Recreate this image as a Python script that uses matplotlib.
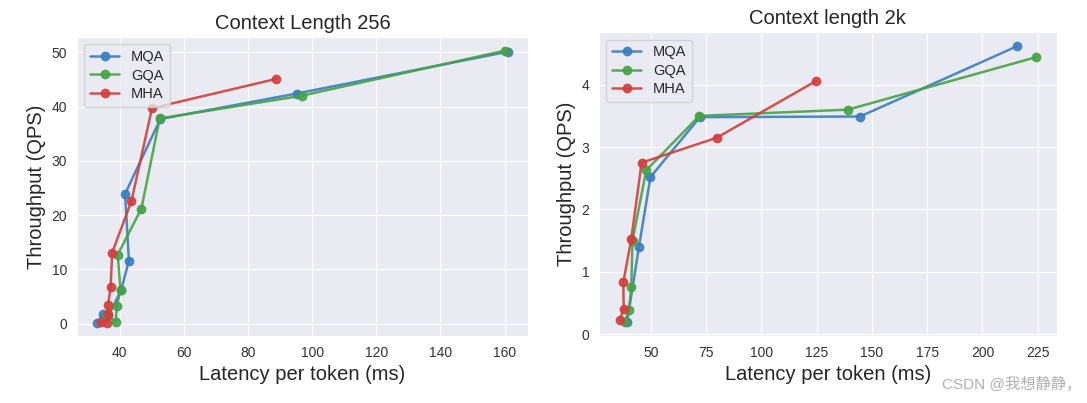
import matplotlib
matplotlib.use("Agg")
import matplotlib.pyplot as plt
import seaborn as sns

sns.set_style("darkgrid")
plt.rcParams['font.family'] = ['Liberation Sans', 'Noto Sans CJK SC', 'DejaVu Sans']

series_names = ["MQA", "GQA", "MHA"]
colors = ["#3b7dbf", "#46a346", "#d23f3c"]

# Context length 256: latency per token (ms) vs throughput (QPS)
mqa_256_lat = [33.1, 34.9, 36.5, 40.5, 42.9, 41.7, 52.7, 95.2, 160.9]
mqa_256_qps = [0.2, 1.7, 1.4, 6.2, 11.6, 23.9, 37.7, 42.4, 50.1]
gqa_256_lat = [36.2, 38.8, 39.1, 40.3, 39.4, 46.8, 52.5, 96.8, 160.0]
gqa_256_qps = [1.5, 0.3, 3.3, 6.2, 12.7, 21.2, 37.8, 42.0, 50.3]
mha_256_lat = [34.1, 36.2, 36.4, 36.4, 37.2, 37.7, 43.7, 50.1, 88.8]
mha_256_qps = [0.3, 0.2, 1.7, 3.4, 6.8, 13.1, 22.6, 39.7, 45.1]

# Context length 2k
mqa_2k_lat = [39.2, 44.6, 49.8, 72.2, 144.6, 215.8]
mqa_2k_qps = [0.19, 1.40, 2.52, 3.48, 3.49, 4.62]
gqa_2k_lat = [38.1, 40.1, 41.1, 41.7, 47.9, 71.9, 139.1, 224.1]
gqa_2k_qps = [0.19, 0.39, 0.75, 1.50, 2.63, 3.50, 3.60, 4.44]
mha_2k_lat = [35.9, 37.7, 37.5, 41.1, 45.8, 79.8, 124.7]
mha_2k_qps = [0.22, 0.41, 0.83, 1.52, 2.75, 3.15, 4.06]

fig = plt.figure(figsize=(10.87, 4.03), dpi=100)
ax1 = fig.add_axes([0.0708, 0.166, 0.415, 0.742])
ax2 = fig.add_axes([0.551, 0.166, 0.421, 0.754])

panels = [
    (ax1, "Context Length 256",
     [(mqa_256_lat, mqa_256_qps), (gqa_256_lat, gqa_256_qps), (mha_256_lat, mha_256_qps)]),
    (ax2, "Context length 2k",
     [(mqa_2k_lat, mqa_2k_qps), (gqa_2k_lat, gqa_2k_qps), (mha_2k_lat, mha_2k_qps)]),
]

for ax, title, data in panels:
    for name, color, (lat, qps) in zip(series_names, colors, data):
        ax.plot(lat, qps, marker="o", markersize=6, linewidth=1.8,
                color=color, alpha=0.9, label=name)
    ax.set_title(title, fontsize=14.5, color="#262626")
    ax.set_xlabel("Latency per token (ms)", fontsize=14.5, color="#262626")
    ax.set_ylabel("Throughput (QPS)", fontsize=14.5, color="#262626")
    ax.tick_params(labelsize=10, colors="#333333")
    ax.legend(loc="upper left", fontsize=10.5, frameon=True, labelspacing=0.3)

fig.text(0.995, 0.045, "CSDN @我想静静，", ha="right", va="center",
         fontsize=11, color="#b0b0b0")

fig.savefig("out.png", dpi=100)
